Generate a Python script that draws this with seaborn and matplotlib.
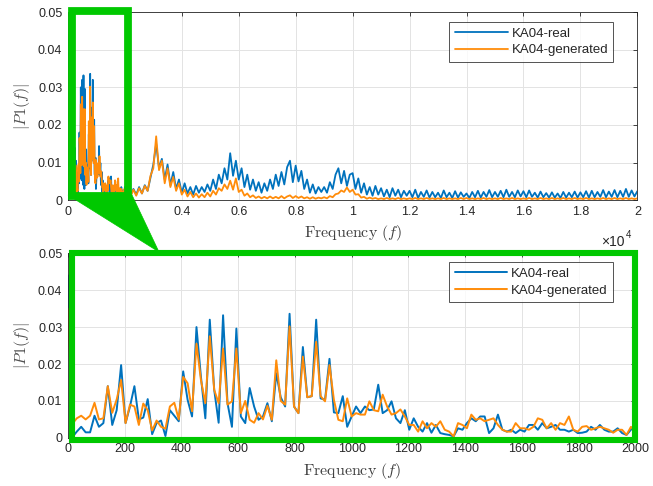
import numpy as np
import pandas as pd
import matplotlib
matplotlib.use("Agg")
import matplotlib.pyplot as plt
import matplotlib.patches as mpatches
import seaborn as sns

# zoomed band: FFT bins (15.625 Hz) from 0 to 2000 Hz
freq_zoom = np.arange(129) * 15.625
real_zoom = [0.044, 0.0002, 0.0017, 0.003, 0.0015, 0.0015, 0.006, 0.003, 0.004, 0.014,
             0.0035, 0.0075, 0.0197, 0.004, 0.0085, 0.014, 0.005, 0.0055, 0.0105, 0.001,
             0.004, 0.0047, 0.0005, 0.0075, 0.006, 0.0045, 0.018, 0.0103, 0.0058, 0.030,
             0.0166, 0.0053, 0.032, 0.013, 0.0041, 0.0332, 0.0094, 0.003, 0.0296, 0.0058,
             0.004, 0.0135, 0.0085, 0.0049, 0.0058, 0.0094, 0.0045, 0.0175, 0.011, 0.0085,
             0.0336, 0.0085, 0.0067, 0.0246, 0.011, 0.0113, 0.032, 0.0107, 0.0103, 0.0214,
             0.0069, 0.0067, 0.0113, 0.003, 0.0058, 0.0085, 0.0067, 0.0085, 0.0075, 0.0077,
             0.0144, 0.0067, 0.0075, 0.0099, 0.0053, 0.004, 0.0075, 0.0022,
             0.0053, 0.003, 0.0017, 0.004, 0.0014, 0.0035, 0.0013, 0.001, 0.0008, 0.0004,
             0.0026, 0.0022, 0.004, 0.0053, 0.0045, 0.0058, 0.0058, 0.0013, 0.0026, 0.0063,
             0.0022, 0.0017, 0.0022, 0.0013, 0.0022, 0.0017,
             0.0035, 0.0035, 0.0022, 0.004, 0.0026, 0.003, 0.0035, 0.0022, 0.0022, 0.0017,
             0.0022, 0.0013, 0.0014, 0.0017, 0.003, 0.0022, 0.0035, 0.0022, 0.0017, 0.0017,
             0.0026, 0.0013, 0.0008, 0.0022, 0.0035]
gen_zoom = [0.035, 0.0038, 0.0053, 0.006, 0.005, 0.006, 0.0095, 0.005, 0.0053, 0.014,
            0.0068, 0.0104, 0.0157, 0.004, 0.009, 0.0085, 0.0035, 0.0093, 0.0075, 0.002,
            0.0047, 0.003, 0.0025, 0.0085, 0.0095, 0.005, 0.0165, 0.0148, 0.0072, 0.0255,
            0.0157, 0.0094, 0.0275, 0.013, 0.0094, 0.0242, 0.009, 0.0099, 0.0242, 0.0067,
            0.010, 0.0049, 0.0041, 0.0067, 0.005, 0.0087, 0.0049, 0.021, 0.010, 0.009,
            0.0302, 0.0085, 0.0067, 0.022, 0.011, 0.0113, 0.026, 0.0113, 0.0099, 0.0197,
            0.0103, 0.0049, 0.0045, 0.0107, 0.0058, 0.0067, 0.0063, 0.0063, 0.0099, 0.0075,
            0.0072, 0.0117, 0.0085, 0.0063, 0.0067, 0.0077, 0.0058, 0.0035,
            0.0035, 0.0017, 0.0045, 0.0026, 0.004, 0.003, 0.0045, 0.0022, 0.0017, 0.0004,
            0.004, 0.0035, 0.0026, 0.0063, 0.0049, 0.0053, 0.0045, 0.0049, 0.0053, 0.0035,
            0.0022, 0.0017, 0.0017, 0.004, 0.0026, 0.0026,
            0.0022, 0.003, 0.0053, 0.0049, 0.0026, 0.004, 0.0022, 0.004, 0.0035, 0.0058,
            0.0022, 0.0017, 0.003, 0.0032, 0.0022, 0.0026, 0.003, 0.0026, 0.0022, 0.0014,
            0.0022, 0.0022, 0.0008, 0.003, 0.0017]

freq_rest = np.arange(2100, 20001, 100)
real_rest = [0.0035, 0.0012, 0.003, 0.0015, 0.0035, 0.0018, 0.004, 0.0025, 0.006,
             0.0095, 0.015, 0.0085, 0.011, 0.0055, 0.0095, 0.004, 0.0075, 0.003, 0.0055,
             0.002, 0.0045, 0.0018, 0.0035, 0.0015, 0.0038, 0.002, 0.0035, 0.0022, 0.0042,
             0.0025, 0.0055, 0.003, 0.0068, 0.0045, 0.0085, 0.0055, 0.0125, 0.0065, 0.0105,
             0.0055, 0.0085, 0.0035, 0.0068, 0.0028, 0.0055, 0.0025, 0.0048, 0.002, 0.0045,
             0.0025, 0.0055, 0.003, 0.0068, 0.0038, 0.0075, 0.0042, 0.0088, 0.0105, 0.0048,
             0.0092, 0.005, 0.0078, 0.003, 0.0055, 0.002, 0.0042, 0.0018, 0.0035, 0.0022,
             0.0035, 0.002, 0.0048, 0.003, 0.0068, 0.0085, 0.0045, 0.0078, 0.0038, 0.0068,
             0.0072, 0.003, 0.0058, 0.002, 0.0045, 0.0015, 0.0035, 0.0012, 0.0038, 0.0015,
             0.0032, 0.001, 0.0028, 0.0008, 0.0032, 0.0012, 0.0028, 0.0008, 0.0025, 0.0012,
             0.0025, 0.0008, 0.0028, 0.0006, 0.0022, 0.0009, 0.0026, 0.0007, 0.0022, 0.0008,
             0.002, 0.0006, 0.0026, 0.0008, 0.002, 0.0006, 0.0024, 0.0007, 0.0021, 0.0009,
             0.0018, 0.0006, 0.0022, 0.0008, 0.0025, 0.0007, 0.0022, 0.0009, 0.0027, 0.0008,
             0.0022, 0.0009, 0.0025, 0.0008, 0.0028, 0.0009, 0.0022, 0.0008, 0.0026, 0.001,
             0.0024, 0.0008, 0.0026, 0.0009, 0.002, 0.0007, 0.0023, 0.0008, 0.0019, 0.0007,
             0.0021, 0.0007, 0.0018, 0.0006, 0.0022, 0.0007, 0.002, 0.0008, 0.0023, 0.0007,
             0.0021, 0.0008, 0.0024, 0.0007, 0.0025, 0.0008, 0.0022, 0.0009, 0.0027, 0.0008,
             0.0023, 0.0009, 0.0027, 0.0008, 0.0025, 0.0009, 0.003, 0.0009, 0.0026, 0.001, 0.0024]
gen_rest = [0.0025, 0.001, 0.0028, 0.0012, 0.0032, 0.0018, 0.0038, 0.0025, 0.0065,
            0.0085, 0.017, 0.008, 0.0105, 0.0045, 0.0085, 0.0035, 0.0062, 0.0025, 0.0045,
            0.0015, 0.0028, 0.001, 0.0022, 0.0008, 0.0018, 0.0007, 0.0016, 0.0008, 0.002,
            0.001, 0.0025, 0.0015, 0.0032, 0.0025, 0.0042, 0.003, 0.0052, 0.0028, 0.0058,
            0.0022, 0.0028, 0.0012, 0.0018, 0.0008, 0.0013, 0.0006, 0.001, 0.0005, 0.0009,
            0.0005, 0.001, 0.0005, 0.0009, 0.0005, 0.0011, 0.0005, 0.001, 0.0013, 0.0006,
            0.0011, 0.0006, 0.001, 0.0005, 0.0008, 0.0004, 0.0008, 0.0004, 0.0007, 0.0005,
            0.0008, 0.0005, 0.0011, 0.0008, 0.0016, 0.0018, 0.0026, 0.0022, 0.0034, 0.0022,
            0.0028, 0.0015, 0.0016, 0.0007, 0.0009, 0.0004, 0.0007, 0.0004, 0.0006, 0.0003,
            0.0005, 0.0003, 0.0006, 0.0003, 0.0005, 0.0003, 0.0006, 0.0003, 0.0005, 0.0003,
            0.0005, 0.0003, 0.0006, 0.0003, 0.0005, 0.0003, 0.0006, 0.0003, 0.0005, 0.0003,
            0.0005, 0.0003, 0.0006, 0.0003, 0.0005, 0.0003, 0.0005, 0.0003, 0.0006, 0.0003,
            0.0006, 0.0003, 0.0005, 0.0003, 0.0005, 0.0003, 0.0006, 0.0003, 0.0005, 0.0003,
            0.0005, 0.0003, 0.0006, 0.0003, 0.0005, 0.0003, 0.0006, 0.0003, 0.0005, 0.0003,
            0.0005, 0.0003, 0.0006, 0.0003, 0.0005, 0.0003, 0.0006, 0.0003, 0.0005, 0.0003,
            0.0006, 0.0003, 0.0005, 0.0003, 0.0006, 0.0003, 0.0005, 0.0003, 0.0006, 0.0003,
            0.0005, 0.0003, 0.0006, 0.0003, 0.0005, 0.0003, 0.0005, 0.0003, 0.0006, 0.0003,
            0.0005, 0.0003, 0.0006, 0.0003, 0.0005, 0.0003, 0.0006, 0.0003, 0.0005, 0.0003, 0.0005]

yticks = [0, 0.01, 0.02, 0.03, 0.04, 0.05]
ytick_labels = ["0", "0.01", "0.02", "0.03", "0.04", "0.05"]
top_xticks = [0, 2000, 4000, 6000, 8000, 10000, 12000, 14000, 16000, 18000, 20000]
top_xtick_labels = ["0", "0.2", "0.4", "0.6", "0.8", "1", "1.2", "1.4", "1.6", "1.8", "2"]
bot_xticks = [0, 200, 400, 600, 800, 1000, 1200, 1400, 1600, 1800, 2000]

BLUE = "#0072BD"
ORANGE = "#FF8C0A"
GREEN = "#00C800"

sns.set_style("white")
plt.rcParams["font.family"] = ["Liberation Sans", "DejaVu Sans"]
plt.rcParams["mathtext.fontset"] = "cm"

top_real = pd.DataFrame({"f": np.concatenate([freq_zoom, freq_rest]), "p": real_zoom + real_rest})
top_gen = pd.DataFrame({"f": np.concatenate([freq_zoom, freq_rest]), "p": gen_zoom + gen_rest})
bot_real = pd.DataFrame({"f": freq_zoom, "p": real_zoom})
bot_gen = pd.DataFrame({"f": freq_zoom, "p": gen_zoom})

fig = plt.figure(figsize=(6.53, 4.86), dpi=100)
ax1 = fig.add_axes([0.104, 0.588, 0.872, 0.387])
ax2 = fig.add_axes([0.104, 0.099, 0.869, 0.380])


def style(ax, leg_anchor):
    ax.set_ylim(0, 0.05)
    ax.set_yticks(yticks)
    ax.set_yticklabels(ytick_labels)
    ax.grid(True, color="#e3e3e3", linewidth=0.7)
    ax.set_axisbelow(True)
    ax.tick_params(direction="in", top=True, right=True, length=3, width=0.6,
                   labelsize=9, colors="#262626", pad=4)
    for s in ax.spines.values():
        s.set_color("#262626")
        s.set_linewidth(0.6)
    ax.set_xlabel(r"$\mathrm{Frequency}\ (f)$", fontsize=11.5, color="#404040", labelpad=4)
    ax.set_ylabel(r"$|P1(f)|$", fontsize=11.5, color="#505050", labelpad=4)
    leg = ax.legend(loc="upper right", bbox_to_anchor=leg_anchor, frameon=True, fancybox=False,
                    edgecolor="#262626", fontsize=9.5, handlelength=4.0, borderpad=0.4,
                    labelspacing=0.35, handletextpad=0.3, borderaxespad=0)
    leg.get_frame().set_linewidth(0.7)


sns.lineplot(data=top_real, x="f", y="p", ax=ax1, color=BLUE, linewidth=1.3, label="KA04-real")
sns.lineplot(data=top_gen, x="f", y="p", ax=ax1, color=ORANGE, linewidth=1.3, label="KA04-generated")
ax1.set_xlim(0, 20000)
ax1.set_xticks(top_xticks)
ax1.set_xticklabels(top_xtick_labels)
style(ax1, (0.958, 0.947))

sns.lineplot(data=bot_real, x="f", y="p", ax=ax2, color=BLUE, linewidth=1.4, label="KA04-real")
sns.lineplot(data=bot_gen, x="f", y="p", ax=ax2, color=ORANGE, linewidth=1.4, label="KA04-generated")
ax2.set_xlim(0, 2000)
ax2.set_xticks(bot_xticks)
style(ax2, (0.961, 0.951))

fig.text(0.921, 0.502, "\u00d710", fontsize=10, color="#262626", ha="left", va="center")
fig.text(0.958, 0.516, "4", fontsize=7, color="#262626", ha="left", va="center")


def px(x, y):
    return (x / 653.0, 1 - y / 486.0)


# green zoom marker: box on the top plot, wedge, box round the bottom plot
x0, y0 = px(72, 196)
x1, y1 = px(128, 11)
fig.add_artist(mpatches.Rectangle((x0, y0), x1 - x0, y1 - y0, fill=False,
                                  edgecolor=GREEN, linewidth=5.6, transform=fig.transFigure,
                                  zorder=5))
fig.add_artist(mpatches.Polygon([px(68, 195), px(132, 195), px(159, 252)], closed=True,
                                facecolor=GREEN, edgecolor=GREEN, linewidth=0.5,
                                transform=fig.transFigure, zorder=5))
x0, y0 = px(72, 440)
x1, y1 = px(634.5, 252.5)
fig.add_artist(mpatches.Rectangle((x0, y0), x1 - x0, y1 - y0, fill=False,
                                  edgecolor=GREEN, linewidth=4.4, transform=fig.transFigure,
                                  zorder=5))

fig.savefig("out.png", dpi=100)
